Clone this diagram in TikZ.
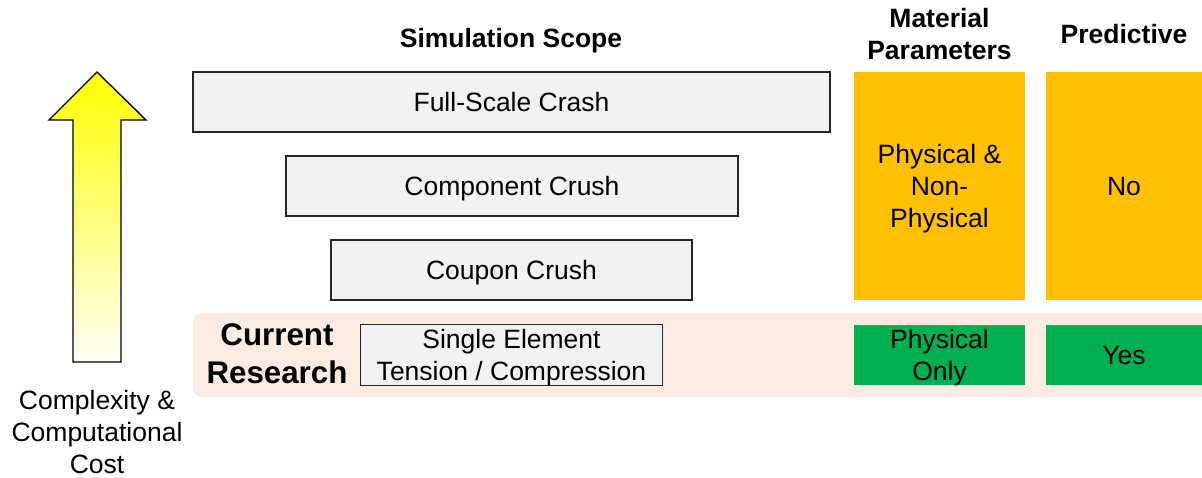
\documentclass[tikz,border=0pt]{standalone}
\usepackage{fontspec}
\setmainfont{Liberation Sans}
\usepackage{xcolor}
\definecolor{scopegray}{HTML}{F2F2F2}
\definecolor{paramorange}{HTML}{FFC000}
\definecolor{paramgreen}{HTML}{00B050}
\definecolor{researchpeach}{HTML}{FCEBE0}
\newcommand{\plainfont}{\fontsize{26.5}{31.8}\selectfont}
\newcommand{\headfont}{\fontsize{26.5}{31.8}\selectfont\bfseries}
\newcommand{\bigheadfont}{\fontsize{31.3}{37.6}\selectfont\bfseries}
\tikzset{x=1pt, y=-1pt,
 scopebox/.style={draw=black!85, line width=1.2pt, fill=scopegray, inner sep=0pt, align=center, text depth=0pt, font=\plainfont},
 parambox/.style={draw=none, fill=paramorange, inner sep=0pt, align=center, text depth=0pt, font=\plainfont},
 yesbox/.style={draw=none, fill=paramgreen, inner sep=0pt, align=center, text depth=0pt, font=\plainfont},
 heading/.style={align=center, font=\headfont, inner sep=0pt},
 plainlabel/.style={align=center, font=\plainfont, inner sep=0pt},
 }

\begin{document}
\begin{tikzpicture}
    \useasboundingbox (0,0) rectangle (1202,478);
    % band behind the current research row
    \fill[researchpeach, rounded corners=9pt] (193,313) rectangle (1220,397);
    % complexity arrow
    \draw[line width=1.4pt, black, top color=yellow, bottom color=yellow!3!white]
        (97,72) -- (146,120) -- (121,120) -- (121,362) -- (73,362) -- (73,120) -- (49,120) -- cycle;
    \node[plainlabel] (cost) at (97,432) {Complexity \&\\Computational\\Cost};

    \node[heading, text depth=0pt] (scopehead) at (511,38) {Simulation Scope};
    \node[heading] (paramhead) at (939.5,34) {Material\\Parameters};
    \node[heading] (predhead) at (1124,34) {Predictive};

    \node[scopebox, minimum width=637pt, minimum height=60pt] (full) at (511.5,102) {Full-Scale Crash};
    \node[scopebox, minimum width=452pt, minimum height=60pt] (component) at (512,186) {Component Crush};
    \node[scopebox, minimum width=361pt, minimum height=60pt] (coupon) at (511.5,270) {Coupon Crush};
    \node[scopebox, minimum width=302pt, minimum height=61pt] (single) at (511.5,355) {Single Element\\Tension / Compression};
    \node[align=center, font=\bigheadfont, inner sep=0pt] (current) at (277,354) {Current\\Research};

    \node[parambox, minimum width=171pt, minimum height=228pt] (physnon) at (939.5,186) {Physical \&\\Non-\\Physical};
    \node[parambox, minimum width=156pt, minimum height=228pt] (no) at (1124,186) {No};
    \node[yesbox, minimum width=171pt, minimum height=60pt] (physonly) at (939.5,355) {Physical\\Only};
    \node[yesbox, minimum width=156pt, minimum height=60pt] (yes) at (1124,355) {Yes};
\end{tikzpicture}
\end{document}
